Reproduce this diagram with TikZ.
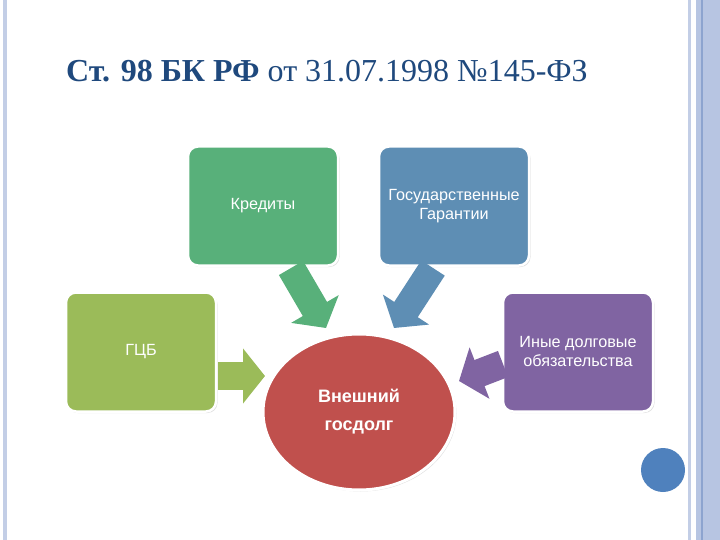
\documentclass[tikz,border=0pt]{standalone}
\usepackage{fontspec}
\setmainfont{Liberation Serif}
\newfontfamily\boxfont{Liberation Sans}
\usepackage{xcolor}
\usepackage{tikz}
\usetikzlibrary{shapes.geometric}
\usetikzlibrary{arrows.meta}
\usetikzlibrary{shadows}
\definecolor{gcbgreen}{HTML}{9BBB59}
\definecolor{credgreen}{HTML}{58B07A}
\definecolor{guarblue}{HTML}{5E8EB4}
\definecolor{otherviolet}{HTML}{8064A2}
\definecolor{debtred}{HTML}{C0504D}
\definecolor{titleblue}{HTML}{1F497D}
\definecolor{stripelight}{HTML}{C3CEE6}
\definecolor{stripeband}{HTML}{B7C5E2}
\definecolor{stripedark}{HTML}{8DA4CF}
\definecolor{dotblue}{HTML}{4F81BD}

\begin{document}
\begin{tikzpicture}[x=1pt, y=-1pt,
    item/.style={rectangle, rounded corners=10pt, draw=white, line width=2.5pt,
        minimum width=150pt, minimum height=119pt, text=white, align=center,
        font=\boxfont\fontsize{16.2}{19}\selectfont,
        drop shadow={opacity=0.25, shadow xshift=1.5pt, shadow yshift=-1.5pt}},
    flow/.style={line width=28pt, -{Triangle[length=22pt, width=54pt]}}]
    \useasboundingbox (0,0) rectangle (720,540);
    % Frame
    \fill[stripelight] (3,0) rectangle (7,540);
    \fill[stripelight] (688,0) rectangle (691,540);
    \fill[stripeband] (696,0) rectangle (720,540);
    \fill[stripedark] (701,0) rectangle (703,540);
    \fill[dotblue] (663,470) circle (22);
    % Title
    \node[anchor=base west, inner sep=0pt, text=titleblue, font=\fontsize{32}{38}\selectfont]
        (title) at (66,82) {\textbf{Ст. 98 БК РФ} от 31.07.1998 №145-ФЗ};
    % Nodes
    \node[item, fill=gcbgreen] (gcb) at (141,352) {ГЦБ};
    \node[item, fill=credgreen] (cred) at (263,206) {Кредиты};
    \node[item, fill=guarblue] (guar) at (454,206) {Государственные\\Гарантии};
    \node[item, fill=otherviolet] (other) at (578,352) {Иные долговые\\обязательства};
    \node[ellipse, fill=debtred, draw=white, line width=3pt, minimum width=192pt,
        minimum height=156pt, text=white, align=center,
        font=\boxfont\bfseries\fontsize{18}{28}\selectfont,
        drop shadow={opacity=0.25, shadow xshift=1.5pt, shadow yshift=-1.5pt}]
        (debt) at (359,412) {Внешний\\госдолг};
    % Arrows
    \coordinate (gcb-out) at (218,376);
    \coordinate (gcb-in) at (265,376);
    \coordinate (cred-out) at (291,268);
    \coordinate (cred-in) at (326,328);
    \coordinate (guar-out) at (433,268);
    \coordinate (guar-in) at (394,328);
    \coordinate (other-out) at (503,364);
    \coordinate (other-in) at (459,381);
    \draw[flow, gcbgreen] (gcb-out) -- (gcb-in);
    \draw[flow, credgreen] (cred-out) -- (cred-in);
    \draw[flow, guarblue] (guar-out) -- (guar-in);
    \draw[flow, otherviolet] (other-out) -- (other-in);
\end{tikzpicture}
\end{document}
